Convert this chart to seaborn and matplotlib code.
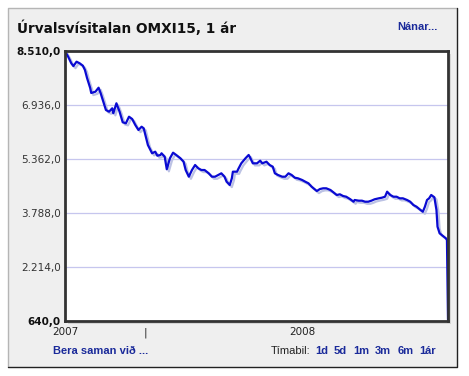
import pandas as pd
import matplotlib
matplotlib.use("Agg")
import matplotlib.pyplot as plt
import matplotlib.patheffects as pe
from matplotlib.patches import Rectangle
from matplotlib.lines import Line2D
import seaborn as sns

# OMXI15 index, one year (days counted from 15 Oct 2007)
start_date = "2007-10-15"
days = [0, 3, 6, 8, 11, 14, 17, 19, 21, 24, 25, 29, 32, 34, 37, 39, 42, 45, 46, 49,
        52, 55, 58, 61, 64, 67, 70, 73, 75, 77, 79, 83, 86, 88, 91, 92, 95, 97, 100, 103,
        106, 110, 113, 115, 118, 121, 124, 127, 130, 133, 137, 140, 143, 146, 149, 152, 154, 157, 159, 160,
        164, 165, 168, 172, 175, 176, 179, 183, 186, 188, 192, 195, 198, 200, 203, 207, 210, 213, 216, 219,
        222, 226, 229, 232, 235, 238, 240, 243, 246, 249, 253, 256, 259, 262, 265, 268, 272, 275, 276, 280,
        283, 286, 289, 292, 295, 299, 302, 305, 307, 310, 313, 316, 319, 322, 326, 329, 332, 335, 338, 341,
        343, 345, 347, 349, 352, 354, 355, 357, 361, 363, 364, 365]
index_values = [8505, 8344, 8151, 8070, 8198, 8151, 8082, 7956, 7723, 7432, 7286, 7324, 7440, 7277, 6986, 6790, 6741, 6840, 6694, 6986,
                6741, 6432, 6403, 6595, 6528, 6353, 6207, 6303, 6257, 6012, 5770, 5528, 5575, 5458, 5479, 5528, 5429, 5062, 5383, 5546,
                5479, 5383, 5283, 5041, 4846, 5041, 5187, 5091, 5041, 5041, 4945, 4846, 4846, 4896, 4945, 4846, 4700, 4604, 4799, 4992,
                4992, 5062, 5236, 5383, 5479, 5429, 5236, 5236, 5312, 5236, 5283, 5187, 5138, 4945, 4896, 4846, 4846, 4945, 4896, 4817,
                4799, 4750, 4700, 4654, 4555, 4479, 4429, 4487, 4508, 4508, 4458, 4385, 4313, 4333, 4283, 4263, 4187, 4117, 4167, 4147,
                4147, 4117, 4117, 4147, 4187, 4216, 4234, 4263, 4409, 4313, 4263, 4263, 4216, 4216, 4167, 4117, 4021, 3972, 3896, 3826,
                3972, 4167, 4216, 4313, 4246, 3875, 3389, 3196, 3097, 3050, 3001, 680]

y_ticks = [640, 2214, 3788, 5362, 6936, 8510]
x_tick_dates = ["2007-10-15", "2007-12-31", "2008-05-28"]
x_tick_labels = ["2007", "|", "2008"]

title = "Úrvalsvísitalan OMXI15, 1 ár"
periods = ["1d", "5d", "1m", "3m", "6m", "1ár"]

df = pd.DataFrame({
    "date": pd.to_datetime(start_date) + pd.to_timedelta(days, unit="D"),
    "value": index_values,
})

sns.set_style("white")
plt.rcParams["font.family"] = ["DejaVu Sans"]
link_blue = "#1a2a9a"
arial = ["Liberation Sans", "DejaVu Sans"]

W, H = 469, 376
fig = plt.figure(figsize=(W / 100, H / 100), dpi=100)
fig.patch.set_facecolor("white")

# outer panel
fig.patches.append(Rectangle((8 / W, 1 - 367 / H), 449 / W, 359 / H, transform=fig.transFigure,
                             facecolor="#efefef", edgecolor="none", zorder=-2))
fig.lines.append(Line2D([8 / W, 8 / W, 457 / W], [1 - 367 / H, 1 - 8 / H, 1 - 8 / H],
                        transform=fig.transFigure, color="#b5b5b5", lw=1, zorder=-1))
fig.lines.append(Line2D([8 / W, 457 / W, 457 / W], [1 - 367 / H, 1 - 367 / H, 1 - 8 / H],
                        transform=fig.transFigure, color="#222222", lw=1, zorder=-1))

ax_l, ax_r, ax_t, ax_b = 65, 448, 51, 321
# frame shadow
fig.patches.append(Rectangle(((ax_l + 3) / W, 1 - (ax_b + 3) / H), (ax_r - ax_l) / W, (ax_b - ax_t) / H,
                             transform=fig.transFigure, facecolor="#d4d4d4", edgecolor="none", zorder=-1))
ax = fig.add_axes([ax_l / W, 1 - ax_b / H, (ax_r - ax_l) / W, (ax_b - ax_t) / H])
ax.set_zorder(2)
ax.set_facecolor("white")

sns.lineplot(data=df, x="date", y="value", ax=ax, color="#0a0ad2", linewidth=1.6,
             path_effects=[pe.SimpleLineShadow(offset=(1.5, -1.5), shadow_color="#bcc2e4", alpha=1),
                           pe.Normal()])

ax.set_xlim(df["date"].iloc[0], df["date"].iloc[-1])
ax.set_ylim(y_ticks[0], y_ticks[-1])
ax.set_yticks(y_ticks)
ax.set_yticklabels([f"{v:,.1f}".replace(",", "X").replace(".", ",").replace("X", ".") for v in y_ticks])
for i, lbl in enumerate(ax.get_yticklabels()):
    lbl.set_color("#333333")
    lbl.set_fontsize(7.5)
    if i in (0, len(y_ticks) - 1):
        lbl.set_fontweight("bold")
        lbl.set_color("#111111")
ax.set_xticks(pd.to_datetime(x_tick_dates))
ax.set_xticklabels(x_tick_labels, fontsize=7.5, color="#222222")
ax.tick_params(length=0, pad=3)
ax.tick_params(axis="x", pad=4.5)
ax.grid(axis="y", color="#c6c6ee", linewidth=0.9)
ax.set_axisbelow(True)
ax.set_xlabel("")
ax.set_ylabel("")
for s in ax.spines.values():
    s.set_visible(True)
    s.set_color("#333333")
    s.set_linewidth(2)

fig.text(17 / W, 1 - 28 / H, title, fontsize=9.8, fontweight="bold", color="#111111", va="center")
fig.text(438 / W, 1 - 27 / H, "Nánar...", fontsize=8, fontweight="bold", color=link_blue,
         va="center", ha="right", family=arial)
fig.text(53 / W, 1 - 351 / H, "Bera saman við ...", fontsize=8, fontweight="bold", color=link_blue,
         va="center", family=arial)

# period links, laid out right-aligned with measured widths
renderer = fig.canvas.get_renderer()
x = 436
for p in reversed(periods):
    t = fig.text(x / W, 1 - 351 / H, p, fontsize=8, fontweight="bold", color=link_blue,
                 va="center", ha="right", family=arial)
    x -= t.get_window_extent(renderer).width + 6
fig.text((x + 1) / W, 1 - 351 / H, "Tímabil:", fontsize=8, color="#222222", va="center", ha="right",
         family=arial)

fig.savefig("out.png", dpi=100)
